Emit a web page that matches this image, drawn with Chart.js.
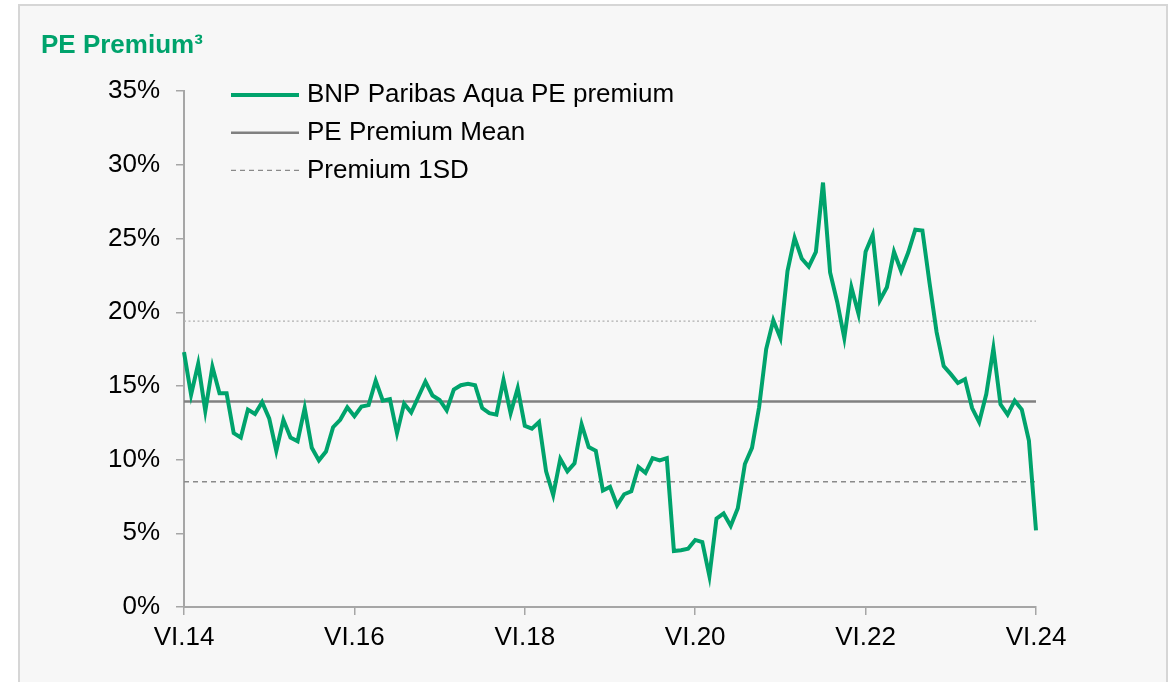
<!DOCTYPE html>
<html>
<head>
<meta charset="utf-8">
<script src="https://cdn.jsdelivr.net/npm/chart.js@4.4.1/dist/chart.umd.min.js"></script>
<style>
    html, body { margin: 0; padding: 0; background: #fff; }
    body { width: 1171px; height: 682px; position: relative; overflow: hidden; }
    .painel { position: absolute; left: 18px; top: 4px; width: 1146px; height: 700px; background: #f7f7f7; border: 2px solid #d6d6d6; }
    canvas { position: absolute; left: 0; top: 0; }
</style>
</head>
<body>
<div class="painel"></div>
<canvas id="graficoPremio" width="1171" height="682"></canvas>
<script>
// PE premium mensal, de VI.14 a VI.24 (em %)
const premio = [
    17.3, 14.4, 16.5, 13.3, 16.3, 14.5, 14.5, 11.8, 11.5, 13.4, 13.1, 13.9,
    12.8, 10.6, 12.7, 11.5, 11.25, 13.5, 10.8, 9.95, 10.55, 12.2, 12.7, 13.55,
    12.95, 13.6, 13.7, 15.35, 14.0, 14.1, 11.8, 13.8, 13.2, 14.25, 15.3, 14.35,
    14.05, 13.35, 14.75, 15.05, 15.15, 15.05, 13.5, 13.15, 13.05, 15.4, 13.15, 14.85,
    12.3, 12.1, 12.55, 9.2, 7.6, 10.05, 9.2, 9.75, 12.4, 10.85, 10.6, 7.9,
    8.15, 6.9, 7.65, 7.85, 9.5, 9.1, 10.1, 9.95, 10.1, 3.8, 3.85, 3.95,
    4.55, 4.4, 2.1, 6.0, 6.35, 5.5, 6.7, 9.7, 10.8, 13.55, 17.5, 19.45,
    18.25, 22.8, 25.05, 23.65, 23.1, 24.1, 28.8, 22.7, 20.7, 18.25, 21.7, 19.9,
    24.1, 25.25, 20.8, 21.7, 24.1, 22.8, 24.05, 25.6, 25.55, 22.0, 18.65, 16.35,
    15.8, 15.2, 15.45, 13.5, 12.55, 14.45, 17.55, 13.75, 13.05, 14.0, 13.4, 11.3,
    5.2
];

const mediaPremio    = 13.95;
const desvioSuperior = 19.4;
const desvioInferior = 8.5;

const rotulosEixoX = ["VI.14", "VI.16", "VI.18", "VI.20", "VI.22", "VI.24"];
const legendas     = ["BNP Paribas Aqua PE premium", "PE Premium Mean", "Premium 1SD"];

const mesesRomanos = ["I", "II", "III", "IV", "V", "VI", "VII", "VIII", "IX", "X", "XI", "XII"];
const meses = premio.map((_, i) => {
    const m = 5 + i;
    return `${mesesRomanos[m % 12]}.${14 + Math.floor(m / 12)}`;
});

const VERDE = '#00a36c';
const FONTE = '"Liberation Sans", Arial, sans-serif';

function linhaHorizontal(valor) {
    return [{ x: meses[0], y: valor }, { x: meses[meses.length - 1], y: valor }];
}

// legenda desenhada dentro da área do gráfico, em coluna
const legendaInterna = {
    id: 'legendaInterna',
    afterDraw(chart) {
        const { ctx, chartArea } = chart;
        const x0 = chartArea.left + 47;
        let y = chartArea.top + 3.8;

        chart.data.datasets.forEach(ds => {
            if (!ds.label) return;
            ctx.save();
            ctx.strokeStyle = ds.borderColor;
            ctx.lineWidth = ds.borderWidth;
            ctx.setLineDash(ds.borderDash || []);
            ctx.beginPath();
            ctx.moveTo(x0, y);
            ctx.lineTo(x0 + 68, y);
            ctx.stroke();
            ctx.restore();

            ctx.save();
            ctx.font = `26px ${FONTE}`;
            ctx.fillStyle = '#000';
            ctx.textBaseline = 'middle';
            ctx.fillText(ds.label, x0 + 76, y);
            ctx.restore();

            y += 37.7;
        });
    }
};

const canvas = document.getElementById("graficoPremio");

new Chart(canvas, {
    type: 'line',
    data: {
        labels: meses,
        datasets: [
            {
                label: legendas[0],
                data: premio,
                borderColor: VERDE,
                borderWidth: 4,
                pointRadius: 0,
                tension: 0,
            },
            {
                label: legendas[1],
                data: linhaHorizontal(mediaPremio),
                borderColor: '#808080',
                borderWidth: 2.5,
                pointRadius: 0,
            },
            {
                label: legendas[2],
                data: linhaHorizontal(desvioInferior),
                borderColor: '#8a8a8a',
                borderWidth: 1.3,
                borderDash: [5, 4],
                pointRadius: 0,
            },
            {
                data: linhaHorizontal(desvioSuperior),
                borderColor: '#b0b0b0',
                borderWidth: 1.3,
                borderDash: [2, 2.5],
                pointRadius: 0,
            }
        ]
    },
    options: {
        responsive: false,
        animation: false,
        layout: { padding: { left: 41, top: 4, right: 135, bottom: 0 } },
        plugins: {
            legend: { display: false },
            tooltip: { enabled: false },
            title: {
                display: true,
                text: 'PE Premium³',
                align: 'start',
                color: VERDE,
                font: { family: FONTE, size: 26, weight: 'bold' },
                padding: { top: 26, bottom: 30 }
            }
        },
        scales: {
            x: {
                type: 'category',
                offset: false,
                border: { color: '#a6a6a6', width: 2 },
                grid: { drawOnChartArea: false, tickLength: 8, color: '#a6a6a6', lineWidth: 1.5 },
                ticks: {
                    autoSkip: false,
                    maxRotation: 0,
                    padding: 7,
                    color: '#000',
                    font: { family: FONTE, size: 26 },
                    callback: (v, i) => rotulosEixoX.includes(meses[i]) ? meses[i] : null
                },
                afterFit: (scale) => { scale.height = 75; }
            },
            y: {
                min: 0,
                max: 35,
                border: { color: '#a6a6a6', width: 2 },
                grid: { drawOnChartArea: false, tickLength: 8, color: '#a6a6a6', lineWidth: 1.5 },
                ticks: {
                    stepSize: 5,
                    padding: 16,
                    color: '#000',
                    font: { family: FONTE, size: 26 },
                    callback: v => v + '%'
                },
                afterFit: (scale) => { scale.width = 143; }
            }
        }
    },
    plugins: [legendaInterna]
});
</script>
</body>
</html>
